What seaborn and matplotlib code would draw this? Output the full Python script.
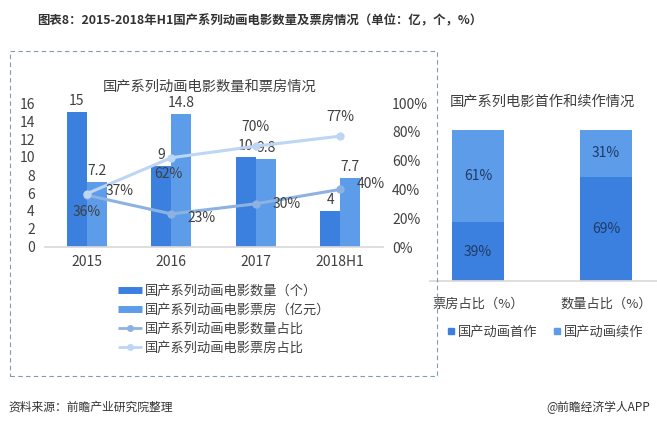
import numpy as np
import pandas as pd
import matplotlib
matplotlib.use("Agg")
import matplotlib.pyplot as plt
from matplotlib.lines import Line2D
from matplotlib.patches import Rectangle
import seaborn as sns

# ─── Data ────────────────────────────────────────────────────────────
years = ["2015", "2016", "2017", "2018H1"]
film_count = [15, 9, 10, 4]            # 国产系列动画电影数量（个）
box_office = [7.2, 14.8, 9.8, 7.7]     # 国产系列动画电影票房（亿元）
count_share = [36, 23, 30, 40]         # 数量占比 %
box_share = [37, 62, 70, 77]           # 票房占比 %

right_cats = ["票房占比（%）", "数量占比（%）"]
first_share = [39, 69]                 # 国产动画首作
sequel_share = [61, 31]                # 国产动画续作

series_names = ["国产系列动画电影数量（个）", "国产系列动画电影票房（亿元）",
                "国产系列动画电影数量占比", "国产系列动画电影票房占比"]

DARK = "#3b80de"
LIGHT = "#5d9ce8"
LINE1 = "#8db2e2"
LINE2 = "#bdd6f3"
TXT = "#404040"

sns.set_theme(style="white")
plt.rcParams["font.family"] = ["Noto Sans CJK SC", "DejaVu Sans"]

W, H = 657, 425
fig = plt.figure(figsize=(W / 100, H / 100), dpi=100)


def box(x0, y0, x1, y1):
    return [x0 / W, 1 - y1 / H, (x1 - x0) / W, (y1 - y0) / H]


# ─── Left chart: bars + share lines ──────────────────────────────────
ax = fig.add_axes(box(44.5, 103, 382.5, 247))
df = pd.DataFrame({
    "year": years * 2,
    "value": film_count + box_office,
    "series": [series_names[0]] * 4 + [series_names[1]] * 4,
})
sns.barplot(data=df, x="year", y="value", hue="series", order=years,
            palette=[DARK, LIGHT], width=0.47, gap=0, saturation=1,
            linewidth=0, legend=False, ax=ax)
ax.set_xlim(-0.5, 3.5)
ax.set_ylim(0, 16)
ax.set_yticks(range(0, 17, 2))
ax.set_xlabel("")
ax.set_ylabel("")
ax.tick_params(axis="both", length=0, labelsize=10, colors=TXT)
ax.tick_params(axis="y", pad=7)
ax.tick_params(axis="x", pad=6)
for s in ["top", "right", "left"]:
    ax.spines[s].set_visible(False)
ax.spines["bottom"].set_color("#d9d9d9")
ax.grid(False)

for i, (c, b) in enumerate(zip(film_count, box_office)):
    ax.annotate(f"{c:g}", (i - 0.1175, c), xytext=(0, 3), textcoords="offset points",
                ha="center", va="bottom", fontsize=10, color=TXT)
    ax.annotate(f"{b:g}", (i + 0.1175, b), xytext=(0, 3), textcoords="offset points",
                ha="center", va="bottom", fontsize=10, color=TXT)

ax2 = ax.twinx()
x_idx = np.arange(len(years))
sns.lineplot(x=x_idx, y=count_share, color=LINE1, lw=2.2, marker="o",
             markersize=6, markeredgewidth=0, ax=ax2)
sns.lineplot(x=x_idx, y=box_share, color=LINE2, lw=2.2, marker="o",
             markersize=6, markeredgewidth=0, ax=ax2)
ax2.set_ylim(0, 100)
ax2.set_yticks(range(0, 101, 20))
ax2.set_yticklabels([f"{v}%" for v in range(0, 101, 20)])
ax2.tick_params(axis="y", length=0, labelsize=10, colors=TXT, pad=7)
for s in ax2.spines.values():
    s.set_visible(False)
ax2.grid(False)

cnt_off = [(0, -12), (22, -3), (22, 0), (22, 4)]
box_off = [(24, 2), (-2, -12), (0, 14), (0, 14)]
for i, v in enumerate(count_share):
    ax2.annotate(f"{v}%", (i, v), xytext=cnt_off[i], textcoords="offset points",
                 ha="center", va="center", fontsize=10, color=TXT)
for i, v in enumerate(box_share):
    ax2.annotate(f"{v}%", (i, v), xytext=box_off[i], textcoords="offset points",
                 ha="center", va="center", fontsize=10, color=TXT)

fig.text(210 / W, 1 - 87 / H, "国产系列动画电影数量和票房情况", ha="center",
         va="center", fontsize=10.3, color=TXT)

handles = [
    Line2D([], [], color=DARK, lw=5, solid_capstyle="butt"),
    Line2D([], [], color=LIGHT, lw=5, solid_capstyle="butt"),
    Line2D([], [], color=LINE1, lw=2, marker="o", markersize=4, solid_capstyle="butt"),
    Line2D([], [], color=LINE2, lw=2, marker="o", markersize=4, solid_capstyle="butt"),
]
fig.legend(handles, series_names, loc="upper left",
           bbox_to_anchor=(118 / W, 1 - 285 / H), frameon=False,
           borderpad=0, borderaxespad=0,
           fontsize=9.5, handlelength=1.8, handletextpad=0.2,
           labelspacing=0.45, labelcolor=TXT)

# ─── Right chart: stacked first / sequel share ───────────────────────
ax3 = fig.add_axes(box(430, 130, 657, 281))
total = [f + s for f, s in zip(first_share, sequel_share)]
sns.barplot(x=right_cats, y=total, color=LIGHT, width=0.4, saturation=1,
            linewidth=0, ax=ax3)
sns.barplot(x=right_cats, y=first_share, color=DARK, width=0.4, saturation=1,
            linewidth=0, ax=ax3)
ax3.set_xlim(-0.375, 1.398)
ax3.set_ylim(0, 100)
ax3.set_yticks([])
ax3.tick_params(axis="x", length=0, labelsize=9.5, colors=TXT, pad=12)
for s in ["top", "right", "left"]:
    ax3.spines[s].set_visible(False)
ax3.spines["bottom"].set_color("#d9d9d9")
ax3.grid(False)
for i, (f, s) in enumerate(zip(first_share, sequel_share)):
    ax3.text(i, f / 2, f"{f}%", ha="center", va="center", fontsize=10, color="#1f3b66")
    ax3.text(i, f + s / 2, f"{s}%", ha="center", va="center", fontsize=10, color="#1f3b66")

fig.text(542 / W, 1 - 102 / H, "国产系列电影首作和续作情况", ha="center",
         va="center", fontsize=10.3, color=TXT)
sq = [Line2D([], [], ls="none", marker="s", markersize=5, color=DARK),
      Line2D([], [], ls="none", marker="s", markersize=5, color=LIGHT)]
fig.legend(sq, ["国产动画首作", "国产动画续作"], loc="center",
           bbox_to_anchor=(545 / W, 1 - 332 / H), ncol=2, frameon=False,
           fontsize=9.5, handlelength=0.6, handletextpad=0.2,
           columnspacing=1.2, labelcolor=TXT)

# ─── Frame, title, footer ────────────────────────────────────────────
fig.add_artist(Rectangle((10 / W, 1 - 376 / H), 427 / W, 325 / H,
                         transform=fig.transFigure, fill=False, ls=(0, (4, 3)),
                         lw=0.8, edgecolor="#7f9cb2"))
fig.text(260 / W, 1 - 21 / H, "图表8：2015-2018年H1国产系列动画电影数量及票房情况（单位：亿，个，%）",
         ha="center", va="center", fontsize=8.9, fontweight="bold", color="#333333")
fig.text(8 / W, 1 - 407 / H, "资料来源：前瞻产业研究院整理", ha="left", va="center",
         fontsize=8.5, color="#333333")
fig.text(650 / W, 1 - 407 / H, "@前瞻经济学人APP", ha="right", va="center",
         fontsize=8.5, color="#333333")

fig.savefig("out.png", dpi=100)
